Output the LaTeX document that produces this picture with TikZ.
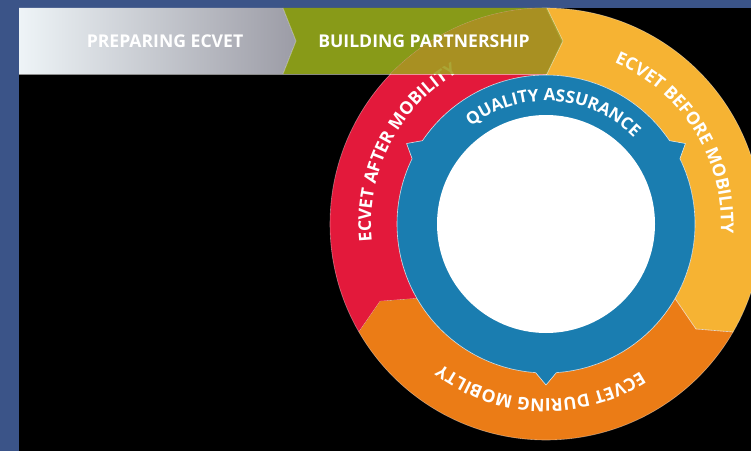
\documentclass[tikz,border=0pt]{standalone}
\usepackage{fontspec}
\setmainfont{Open Sans}
\usetikzlibrary{decorations.text,calc}
\definecolor{bgblue}{HTML}{3B5488}
\definecolor{ringred}{HTML}{E3193B}
\definecolor{ringyellow}{HTML}{F6B333}
\definecolor{ringorange}{HTML}{EB7C16}
\definecolor{qblue}{HTML}{1A7DB0}
\definecolor{bangreen}{HTML}{889A18}
\definecolor{banolive}{HTML}{A29D20}
\definecolor{greyL}{HTML}{EEF4F7}
\definecolor{greyM}{HTML}{B4B6BE}
\definecolor{greyR}{HTML}{9C9CA6}
\newcommand\lbl{\fontsize{17}{17}\selectfont\bfseries}
\newcommand\lblbig{\fontsize{17.6}{17.6}\selectfont\bfseries}
\newcommand\ringseg[3]{%
  \fill[#1] ($(C)+(#2:149pt)$) -- ($(C)+({#2-5}:183pt)$) -- ($(C)+(#2:216pt)$)
    arc[start angle=#2, end angle=#3, radius=216pt]
    -- ($(C)+({#3-5}:183pt)$) -- ($(C)+(#3:149pt)$)
    arc[start angle=#3, end angle=#2, radius=149pt] -- cycle;
  \draw[sepline] ($(C)+(#2:149pt)$) -- ($(C)+({#2-5}:183pt)$) -- ($(C)+(#2:216pt)$);
}
\tikzset{
  sepline/.style={draw=white, opacity=0.75, line width=0.6pt, line join=round},
  ringtext/.style={decorate, decoration={text along path, text align=center, text color=white, text={|\lbl|#1}}},
  ringtextbig/.style={decorate, decoration={text along path, text align=center, text color=white, text={|\lblbig|#1}}}
}
\begin{document}
\begin{tikzpicture}[x=1pt,y=1pt]
\useasboundingbox (0,0) rectangle (751,451);
\fill[bgblue] (0,0) rectangle (751,451);
\fill[black] (19,0) rectangle (751,443);
\coordinate (C) at (546,227);
% banner
\shade[left color=greyL, middle color=greyM, right color=greyR] (19,443) -- (283,443) -- (296,410) -- (283,377) -- (19,377) -- cycle;
\fill[bangreen] (283,443) -- (547,443) -- (563,410) -- (547,377) -- (283,377) -- (296,410) -- cycle;
% outer ring
\ringseg{ringred}{210}{90}
\ringseg{ringyellow}{90}{-30}
\ringseg{ringorange}{-30}{-150}
\draw[sepline, opacity=0.4] (C) circle[radius=216pt];
% blue ring with tips
\path[fill=qblue, sepline, draw opacity=0.8, fill opacity=1]
  ($(C)+(154:149pt)$) -- ($(C)+(150:161pt)$) -- ($(C)+(146:149pt)$)
  arc[start angle=146, end angle=34, radius=149pt]
  -- ($(C)+(30:161pt)$) -- ($(C)+(26:149pt)$)
  arc[start angle=26, end angle=-86, radius=149pt]
  -- ($(C)+(-90:161pt)$) -- ($(C)+(-94:149pt)$)
  arc[start angle=-94, end angle=-206, radius=149pt] -- cycle;
\fill[white] (C) circle[radius=109pt];
% ring texts
\path[ringtext={QUALITY ASSURANCE}] ($(C)+(146:123pt)$) arc[start angle=146, end angle=26, radius=123pt];
\path[ringtextbig={ECVET AFTER MOBILITY}] ($(C)+(213:175pt)$) arc[start angle=213, end angle=93, radius=175pt];
\path[ringtextbig={ECVET BEFORE MOBILITY}] ($(C)+(92:175pt)$) arc[start angle=92, end angle=-28, radius=175pt];
\path[ringtextbig={ECVET DURING MOBILTY}] ($(C)+(-32:175pt)$) arc[start angle=-32, end angle=-152, radius=175pt];
% overlay of banner over circle
\begin{scope}
\clip (283,443) -- (547,443) -- (563,410) -- (547,377) -- (283,377) -- (296,410) -- cycle;
\fill[banolive, opacity=0.9] (C) circle[radius=216pt];
\end{scope}
\draw[sepline, opacity=0.5] (283,443) -- (296,410) -- (283,377);
\draw[sepline, opacity=0.5] (547,443) -- (563,410) -- (547,377);
\draw[sepline, opacity=0.5] (19,377) -- (547,377);
\node[text=white, font=\lblbig] (prep) at (165,410) {PREPARING ECVET};
\node[text=white, font=\lblbig] (build) at (424,410) {BUILDING PARTNERSHIP};
\end{tikzpicture}
\end{document}
